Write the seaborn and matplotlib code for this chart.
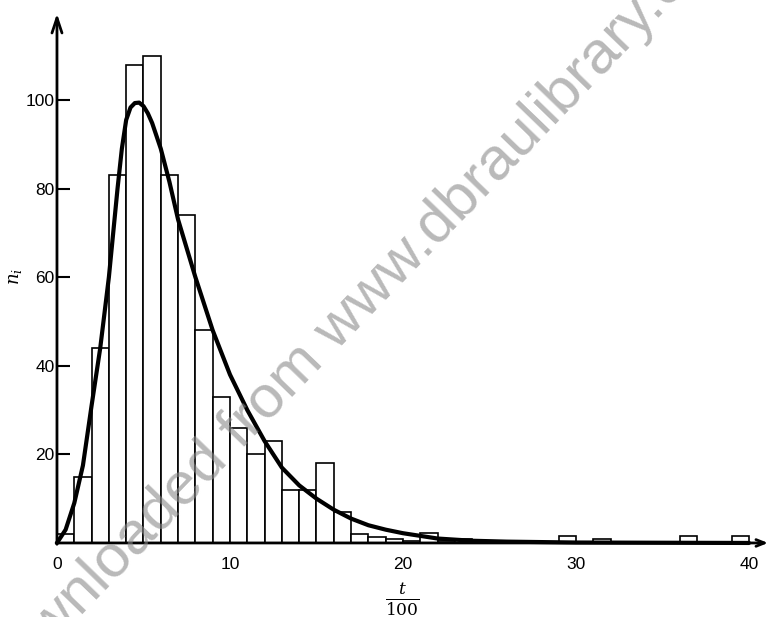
import numpy as np
import pandas as pd
import seaborn as sns
import matplotlib
matplotlib.use("Agg")
import matplotlib.pyplot as plt

# ---- data ----
bin_left = list(range(40))
counts = [2, 15, 44, 83, 108, 110, 83, 74, 48, 33,
          26, 20, 23, 12, 12, 18, 7, 2, 1.3, 1,
          0.5, 2.2, 0.5, 1, 0.3, 0.3, 0, 0, 0, 1.5,
          0, 0.8, 0, 0, 0, 0, 1.5, 0, 0, 1.5]

curve_x = [0, 0.5, 1.0, 1.5, 2.0, 2.5, 3.0, 3.5, 3.75, 4.0, 4.25, 4.5, 4.75,
           5.0, 5.25, 5.5, 6.0, 6.5, 7.0, 8.0, 9.0, 10, 11, 12, 13, 14, 15,
           16, 17, 18, 19, 20, 22, 24, 26, 28, 30, 35, 40]
curve_y = [0, 3, 9, 17.5, 31, 44, 60, 80, 89, 95.5, 98.3, 99.3, 99.4,
           98.6, 97, 94.8, 89, 81.5, 73, 60, 48, 38, 30, 23, 17, 13, 10,
           7.5, 5.5, 4, 3, 2.2, 1, 0.5, 0.3, 0.2, 0.1, 0.05, 0]

y_ticks = [20, 40, 60, 80, 100]
x_ticks = [0, 10, 20, 30, 40]
x_tick_labels = ["0", "10", "20", "30", "40"]

hist_df = pd.DataFrame({"t": [b + 0.5 for b in bin_left], "n": counts})
curve_df = pd.DataFrame({"t": curve_x, "n": curve_y})

sns.set_theme(style="white")
plt.rcParams["font.family"] = ["Liberation Sans", "DejaVu Sans"]
plt.rcParams["mathtext.fontset"] = "dejavuserif"

fig = plt.figure(figsize=(7.7, 6.17), dpi=100)
ax = fig.add_axes([0.074, 0.12, 0.9257, 0.8616])

sns.histplot(data=hist_df, x="t", weights="n", binwidth=1, binrange=(0, 40),
             stat="count", fill=True, color="white", edgecolor="black",
             linewidth=1.2, alpha=1, ax=ax, zorder=2)
sns.lineplot(data=curve_df, x="t", y="n", color="black", lw=3.0, ax=ax,
             zorder=4, clip_on=False)

ax.set_xlim(0, 41.2)
ax.set_ylim(0, 120)
for s in ax.spines.values():
    s.set_visible(False)

# axes with arrow heads
ax.annotate("", xy=(0, 119.5), xytext=(0, -0.3), xycoords="data",
            arrowprops=dict(arrowstyle="->,head_length=0.9,head_width=0.3",
                            lw=2.0, color="black", shrinkA=0, shrinkB=0),
            annotation_clip=False, zorder=5)
ax.annotate("", xy=(41.1, 0), xytext=(-0.05, 0), xycoords="data",
            arrowprops=dict(arrowstyle="->,head_length=0.5,head_width=0.2",
                            lw=2.0, color="black", shrinkA=0, shrinkB=0),
            annotation_clip=False, zorder=5)

ax.set_yticks(y_ticks)
ax.set_yticklabels([str(v) for v in y_ticks])
ax.set_xticks(x_ticks)
ax.set_xticklabels(x_tick_labels)
ax.tick_params(axis="y", direction="in", length=9, width=1.5, pad=-2,
               labelsize=12.5, left=True, colors="black")
ax.tick_params(axis="x", length=0, pad=10, labelsize=12.5, colors="black")
for lab in ax.get_yticklabels():
    lab.set_horizontalalignment("right")
    lab.set_x(-0.007)
ax.set_xlabel("")
ax.set_ylabel("")
ax.grid(False)

fig.text(15 / 770, (617 - 277) / 617, r"$n_i$", rotation=90, fontsize=13,
         ha="center", va="center", color="black")
fig.text(402 / 770, (617 - 600) / 617, r"$\frac{t}{100}$", fontsize=17.5,
         ha="center", va="center", color="black")

# watermark
fig.text(-0.0052, -0.140, "Downloaded from www.dbraulibrary.com", rotation=46,
         rotation_mode="anchor", ha="left", va="baseline", fontsize=43.5,
         color="#8a8a8a", alpha=0.6, zorder=10,
         family=["Liberation Sans", "DejaVu Sans"])

fig.savefig("out.png", dpi=100, facecolor="white")
